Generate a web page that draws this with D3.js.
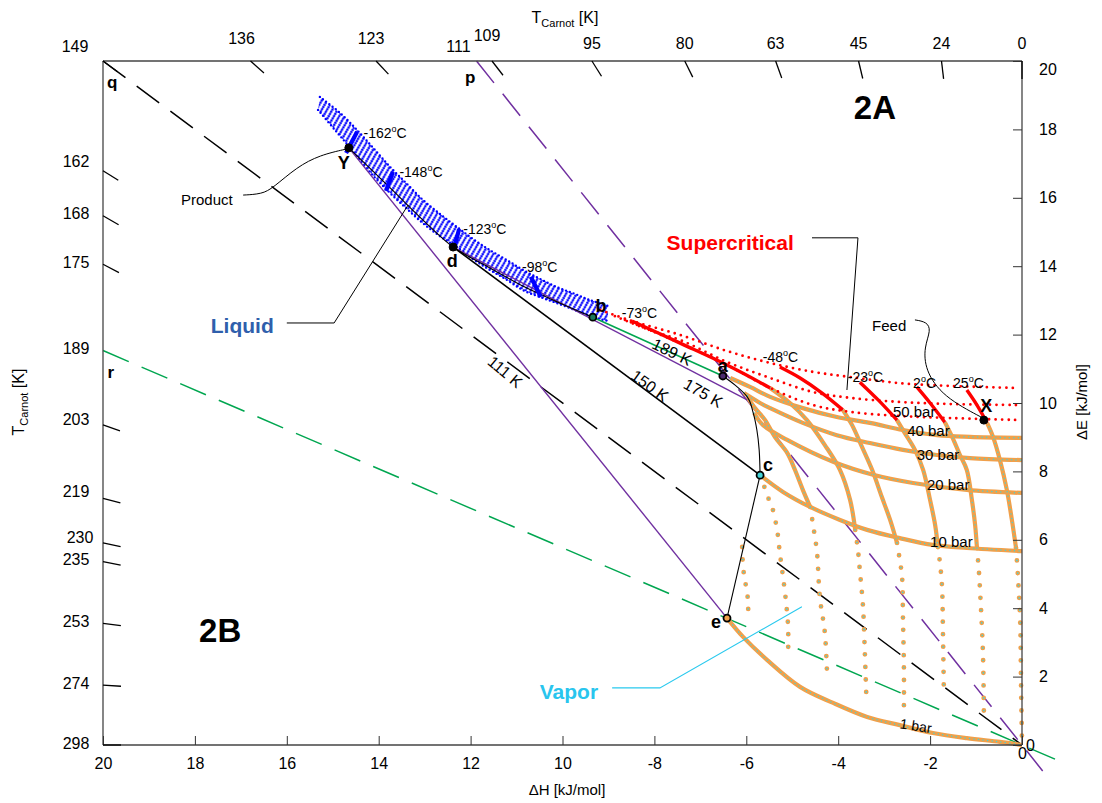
<!DOCTYPE html>
<html>
<head>
<meta charset="utf-8">
<script src="https://cdn.jsdelivr.net/npm/d3@7"></script>
<style>
  body { margin: 0; background: #fff; }
  svg { font-family: "Liberation Sans", Arial, sans-serif; }
</style>
</head>
<body>
<svg id="chart" width="1102" height="803"></svg>
<script>
// ---------------- data (ΔH, ΔE in kJ/mol) ----------------
const T0 = 298; // ambient reference temperature, K

const dHTicks = [-20, -18, -16, -14, -12, -10, -8, -6, -4, -2, 0];
const dHTickLabels = ["20", "18", "16", "14", "12", "10", "-8", "-6", "-4", "-2", "0"];
const dETicks = [0, 2, 4, 6, 8, 10, 12, 14, 16, 18, 20];

// Carnot temperature ticks (K) along the top and left frame edges
const carnotTopTicks = [149, 136, 123, 111, 109, 95, 80, 63, 45, 24, 0];
const carnotLeftTicks = [162, 168, 175, 189, 203, 219, 230, 235, 253, 274, 298];

// Carnot reference lines through the origin (name, temperature K, ΔH where the line stops)
const refNames = ["q", "p", "r"];
const refTemps = [149, 111, 189];
const refEnds = [0, 0.45, 0.75];

// process states
const stateNames = ["Y", "d", "b", "a", "c", "e", "X"];
const stateXY = [[-14.65, 17.46], [-12.38, 14.56], [-9.34, 12.51], [-6.51, 10.79],
                 [-5.70, 7.89], [-6.42, 3.71], [-0.83, 9.50]];

// liquid band (compressed liquid region): upper and lower boundaries
const liquidUpper = [[-15.28, 18.95], [-14.84, 18.48], [-14.47, 17.98], [-14.12, 17.46], [-13.75, 16.90],
  [-13.38, 16.40], [-13.04, 15.94], [-12.67, 15.53], [-12.30, 15.15], [-11.95, 14.80], [-11.58, 14.47],
  [-11.21, 14.18], [-10.86, 13.89], [-10.49, 13.63], [-10.12, 13.39], [-9.73, 13.19], [-9.40, 13.01], [-9.01, 12.84]];
const liquidLower = [[-15.32, 18.57], [-14.95, 17.98], [-14.62, 17.46], [-14.23, 16.81], [-13.82, 16.23],
  [-13.43, 15.73], [-13.04, 15.26], [-12.67, 14.88], [-12.30, 14.56], [-11.95, 14.21], [-11.58, 13.89],
  [-11.21, 13.60], [-10.86, 13.30], [-10.49, 13.10], [-10.12, 12.92], [-9.73, 12.72], [-9.34, 12.51], [-9.01, 12.40]];

// highlighted liquid isotherms (°C) across the band
const liquidIsoTemps = [-162, -148, -123, -98];
const liquidIsoSegs = [
  [[-14.47, 17.93], [-14.71, 17.31]],
  [[-13.69, 16.76], [-13.84, 16.20]],
  [[-12.25, 15.09], [-12.36, 14.51]],
  [[-10.69, 13.69], [-10.47, 13.10]]
];

// liquid cooling path Y - d - b
const liquidPath = [[-14.65, 17.46], [-13.75, 16.29], [-12.99, 15.29], [-12.38, 14.56], [-11.58, 13.95],
  [-10.82, 13.39], [-10.05, 12.92], [-9.34, 12.51]];

// saturated vapour path a - c - e
const vaporPath = [[-6.51, 10.79], [-6.25, 10.53], [-5.98, 10.18], [-5.85, 9.71], [-5.77, 9.21],
  [-5.72, 8.63], [-5.70, 7.89], [-6.42, 3.71]];

// straight Carnot process lines
const processNames = ["111 K", "150 K", "175 K", "189 K"];
const process111 = [[-14.65, 17.46], [-6.42, 3.71]];
const process150 = [[-12.38, 14.56], [-5.70, 7.89]];
const process175 = [[-12.38, 14.56], [-5.98, 10.09]];
const process189 = [[-9.34, 12.51], [-6.51, 10.79]];

// supercritical isobars (50 bar and above)
const superIsobarHigh = [[-9.18, 12.72], [-8.49, 12.40], [-7.44, 11.99], [-6.42, 11.52], [-5.48, 11.17],
  [-4.55, 10.91], [-3.74, 10.76], [-2.66, 10.58], [-1.57, 10.50], [-0.15, 10.44]];
const superIsobarMid = [[-8.86, 12.54], [-8.10, 12.13], [-7.44, 11.84], [-6.42, 11.20], [-5.48, 10.73],
  [-4.55, 10.32], [-3.74, 10.15], [-2.66, 10.03], [-1.57, 9.97], [-0.02, 9.94]];
const superIsobar50 = [[-8.64, 12.43], [-7.44, 11.75], [-6.42, 11.11], [-5.48, 10.44], [-4.55, 9.94],
  [-3.74, 9.74], [-2.66, 9.62], [-1.57, 9.56], [-0.02, 9.50]];

// supercritical parts of the isotherms -73, -48, -23, 2, 25 °C
const superIsotherms = [
  [[-8.49, 12.40], [-7.44, 11.75], [-6.42, 11.11], [-5.48, 10.44]],
  [[-5.27, 11.05], [-4.83, 10.73], [-4.35, 10.29], [-3.90, 9.80]],
  [[-3.53, 10.61], [-3.13, 10.09], [-2.72, 9.50]],
  [[-2.29, 10.47], [-2.00, 10.00], [-1.68, 9.44]],
  [[-1.20, 10.38], [-0.98, 9.94], [-0.76, 9.42]]
];

// vapour isobars
const isobar40 = [[-6.35, 10.73], [-5.92, 10.47], [-5.48, 10.18], [-4.77, 9.85], [-4.03, 9.59],
  [-3.31, 9.42], [-2.59, 9.21], [-1.85, 9.06], [-1.13, 9.01], [0, 8.98]];
const isobar30 = [[-6.05, 10.29], [-5.70, 10.00], [-5.48, 9.85], [-4.77, 9.42], [-4.03, 9.06],
  [-3.31, 8.83], [-2.59, 8.63], [-1.85, 8.48], [-1.13, 8.39], [0, 8.33]];
const isobar20 = [[-5.83, 9.71], [-5.64, 9.36], [-5.11, 8.92], [-4.11, 8.28], [-3.24, 7.90],
  [-2.37, 7.66], [-1.20, 7.46], [0, 7.37]];
const isobar10 = [[-5.70, 7.89], [-5.20, 7.40], [-4.61, 6.96], [-3.96, 6.58], [-3.37, 6.29],
  [-2.66, 6.05], [-1.94, 5.85], [-1.20, 5.76], [0, 5.67]];
const isobar1 = [[-6.42, 3.71], [-6.07, 3.16], [-5.55, 2.49], [-4.83, 1.70], [-4.11, 1.23],
  [-3.37, 0.82], [-2.66, 0.58], [-1.94, 0.35], [-1.20, 0.20], [-0.48, 0.09], [0, 0]];

// vapour isotherms between 50 and 10 bar (-98, -73, -48, -23, 2, 25 °C)
const vaporIsothermsHigh = [
  [[-5.98, 10.18], [-5.81, 9.85], [-5.59, 9.50], [-5.38, 9.01], [-5.11, 8.54], [-4.94, 8.04], [-4.77, 7.46], [-4.61, 6.96]],
  [[-5.48, 10.44], [-5.05, 10.00], [-4.68, 9.50], [-4.29, 8.77], [-3.96, 8.04], [-3.74, 7.16], [-3.63, 6.29]],
  [[-3.90, 9.80], [-3.70, 9.36], [-3.48, 8.71], [-3.26, 8.04], [-3.05, 7.25], [-2.87, 6.58], [-2.72, 5.91]],
  [[-2.72, 9.50], [-2.55, 9.12], [-2.33, 8.63], [-2.15, 8.04], [-2.00, 7.16], [-1.89, 6.43], [-1.83, 5.79]],
  [[-1.68, 9.44], [-1.52, 9.01], [-1.35, 8.48], [-1.20, 8.04], [-1.09, 7.16], [-1.02, 6.43], [-0.98, 5.76]],
  [[-0.76, 9.42], [-0.63, 9.01], [-0.48, 8.33], [-0.33, 7.46], [-0.22, 6.58], [-0.13, 5.76]]
];

// vapour isotherms below 10 bar (-148, -123, -98, -73, -48, -23, 2, 25 °C)
const vaporIsothermsLow = [
  [[-6.09, 5.79], [-6.07, 5.20], [-6.03, 4.82], [-5.98, 4.44], [-5.96, 4.09], [-5.96, 3.74]],
  [[-5.70, 7.89], [-5.64, 7.69], [-5.55, 7.31], [-5.44, 6.96], [-5.33, 6.29], [-5.27, 5.61], [-5.20, 4.91], [-5.14, 4.24], [-5.09, 3.45], [-5.09, 2.69]],
  [[-4.61, 6.96], [-4.53, 6.29], [-4.46, 5.61], [-4.40, 4.33], [-4.29, 3.27], [-4.24, 1.99]],
  [[-3.63, 6.29], [-3.57, 5.70], [-3.53, 5.12], [-3.46, 4.04], [-3.42, 2.69], [-3.39, 1.52]],
  [[-2.72, 5.91], [-2.66, 5.41], [-2.61, 4.91], [-2.59, 3.66], [-2.57, 2.28], [-2.57, 1.11]],
  [[-1.83, 5.79], [-1.78, 5.26], [-1.74, 4.62], [-1.72, 3.27], [-1.70, 1.52]],
  [[-0.98, 5.76], [-0.94, 5.12], [-0.91, 4.44], [-0.85, 2.69], [-0.83, 0.94]],
  [[-0.13, 5.76], [-0.09, 4.97], [-0.04, 3.65], [-0.02, 1.70], [0, 0.06]]
];

// annotation leaders
const productLeader = [[-16.95, 16.08], [-16.54, 16.11], [-16.30, 16.29], [-15.78, 16.90], [-15.28, 17.25], [-14.69, 17.43]];
const liquidLeader = [[-16.00, 12.34], [-14.97, 12.34], [-13.36, 15.79]];
const superLeader = [[-4.57, 14.83], [-3.57, 14.83], [-3.81, 10.38]];
const feedLeader = [[-2.33, 12.43], [-2.07, 12.37], [-1.98, 12.13], [-2.13, 11.64], [-2.11, 10.96], [-1.72, 10.18], [-0.85, 9.56]];
const vaporLeader = [[-8.92, 1.67], [-7.88, 1.67], [-4.79, 4.04]];

// label anchors
const tempLabelTemps = [-162, -148, -123, -98, -73, -48, -23, 2, 25];
const tempLabelAt = [[-14.33, 17.75], [-13.55, 16.61], [-12.16, 14.94], [-10.88, 13.83], [-8.71, 12.49],
  [-5.64, 11.20], [-3.79, 10.61], [-2.37, 10.44], [-1.50, 10.44]];
const isobarNames = ["50 bar", "40 bar", "30 bar", "20 bar", "10 bar"];
const isobarLabelAt = [[-2.81, 9.59], [-2.50, 9.04], [-2.29, 8.33], [-2.07, 7.46], [-2.00, 5.79]];
const oneBarLabelAt = [-2.31, 0.56];
const processLabelAt = [[-11.25, 10.91], [-8.10, 10.50], [-6.94, 10.29], [-7.62, 11.49]];
const stateLabelAt = [[-14.76, 17.02], [-12.40, 14.15], [-9.16, 12.84], [-6.51, 11.08], [-5.53, 8.19], [-6.66, 3.60], [-0.78, 9.91]];
const refLabelAt = [[-19.80, 19.36], [-12.01, 19.53], [-19.83, 10.88]];

// ---------------- drawing ----------------
const svg = d3.select("#chart");
const x = d3.scaleLinear().domain([-20, 0]).range([103, 1022]);
const y = d3.scaleLinear().domain([0, 20]).range([745, 61]);

const straight = d3.line().x(d => x(d[0])).y(d => y(d[1]));
const smooth = d3.line().x(d => x(d[0])).y(d => y(d[1])).curve(d3.curveCatmullRom.alpha(0.5));
const basis = d3.line().x(d => x(d[0])).y(d => y(d[1])).curve(d3.curveBasis);

const PURPLE = "#7030a0", GREEN = "#00a650", RED = "#ff0000", BLUE = "#0000ff";
const ORANGE = "#f0a04b", CYAN = "#45d3d6";

// dotted hatch used for the compressed-liquid band
const defs = svg.append("defs");
defs.append("pattern")
  .attr("id", "liqHatch")
  .attr("patternUnits", "userSpaceOnUse")
  .attr("width", 4.6).attr("height", 2.5)
  .attr("patternTransform", "rotate(30)")
  .append("circle").attr("cx", 2.3).attr("cy", 1.25).attr("r", 1.2).attr("fill", BLUE);

const plot = svg.append("g");

function path(gen, data, stroke, width, dash) {
  const p = plot.append("path").attr("d", gen(data)).attr("fill", "none")
    .attr("stroke", stroke).attr("stroke-width", width);
  if (dash) p.attr("stroke-dasharray", dash);
  return p;
}
function dots(data, stroke, width, gap) {
  return path(smooth, data, stroke, width, `0 ${gap}`).attr("stroke-linecap", "round");
}
// dense orange trace with cyan centres
function denseTrace(data) {
  path(smooth, data, ORANGE, 4.2);
  dots(data, CYAN, 1.5, 4.5);
}
// sparse orange dots with cyan centres
function sparseTrace(data) {
  dots(data, ORANGE, 4.8, 12.5);
  dots(data, CYAN, 1.7, 12.5);
}

// Carnot reference lines q, p, r
const refColors = { q: "#000", p: PURPLE, r: GREEN };
refNames.forEach((n, i) => {
  const k = T0 / refTemps[i] - 1;
  const start = k >= 1 ? [-20 / k, 20] : [-20, 20 * k];
  const end = [refEnds[i], -k * refEnds[i]];
  path(straight, [start, end], refColors[n], 1.5, "28 14");
});

// liquid band
plot.append("path")
  .attr("d", straight(liquidUpper.concat(liquidLower.slice().reverse())) + "Z")
  .attr("fill", "url(#liqHatch)").attr("stroke", "none");
dots(liquidUpper, BLUE, 2.4, 4);
dots(liquidLower, BLUE, 2.4, 4);

// vapour region
[isobar40, isobar30, isobar20, isobar10, isobar1].forEach(denseTrace);
vaporIsothermsHigh.forEach(denseTrace);
vaporIsothermsLow.forEach(sparseTrace);

// supercritical region
[superIsobarHigh, superIsobarMid, superIsobar50].forEach(d => dots(d, RED, 2.8, 6.5));
superIsotherms.forEach(d => path(smooth, d, RED, 3.4));

// process lines
path(straight, process111, PURPLE, 1.4);
path(straight, process175, PURPLE, 1.4);
path(straight, process150, "#000", 1.6);
path(straight, process189, GREEN, 1.6);
path(smooth, liquidPath, "#000", 1.1);
path(d3.line().x(d => x(d[0])).y(d => y(d[1])).curve(d3.curveMonotoneY), vaporPath.slice(0, 7), "#000", 1.1);
path(straight, vaporPath.slice(6), "#000", 1.1);

// highlighted liquid isotherms
liquidIsoSegs.forEach(d => path(straight, d, BLUE, 4.2));

// leaders
path(basis, productLeader, "#000", 1);
path(straight, liquidLeader, "#000", 1);
path(straight, superLeader, "#000", 1);
path(basis, feedLeader, "#000", 1);
path(straight, vaporLeader, "#29c9ee", 1.1);

// state points
const stateFill = { Y: "#000", d: "#000", X: "#000", a: "#4b2a6e", b: "#1b7a5a", c: CYAN, e: ORANGE };
stateNames.forEach((n, i) => {
  const filled = (n === "Y" || n === "d" || n === "X");
  plot.append("circle").attr("cx", x(stateXY[i][0])).attr("cy", y(stateXY[i][1]))
    .attr("r", filled ? 4 : 3.5)
    .attr("fill", stateFill[n]).attr("stroke", "#000").attr("stroke-width", filled ? 1 : 1.8);
});

// ---------------- frame and axes ----------------
const frame = svg.append("g").attr("stroke", "#444").attr("stroke-width", 1.3);
frame.append("line").attr("x1", x(-20)).attr("x2", x(0)).attr("y1", y(20)).attr("y2", y(20));
frame.append("line").attr("x1", x(-20)).attr("x2", x(0)).attr("y1", y(0)).attr("y2", y(0));
frame.append("line").attr("x1", x(-20)).attr("x2", x(-20)).attr("y1", y(0)).attr("y2", y(20));
frame.append("line").attr("x1", x(0)).attr("x2", x(0)).attr("y1", y(0)).attr("y2", y(20));

const xAxis = svg.append("g").attr("transform", `translate(0,${y(0)})`)
  .call(d3.axisBottom(x).tickValues(dHTicks).tickFormat((d, i) => dHTickLabels[i]).tickSize(-9).tickPadding(13));
xAxis.select(".domain").remove();
xAxis.selectAll("text").attr("font-size", 16).attr("fill", "#000")
  .attr("font-family", "Liberation Sans, Arial, sans-serif");
xAxis.selectAll(".tick line").attr("stroke", "#333");
xAxis.selectAll(".tick").filter(d => d === 0).select("text").attr("dy", "0.05em");

const yAxis = svg.append("g").attr("transform", `translate(${x(0)},0)`)
  .call(d3.axisRight(y).tickValues(dETicks).tickSize(-9).tickPadding(17));
yAxis.select(".domain").remove();
yAxis.selectAll("text").attr("font-size", 16).attr("fill", "#000")
  .attr("font-family", "Liberation Sans, Arial, sans-serif");
yAxis.selectAll(".tick line").attr("stroke", "#333");
yAxis.selectAll(".tick").filter(d => d === 20).select("text").attr("dy", "0.85em");
yAxis.selectAll(".tick").filter(d => d === 0).select("text").attr("x", 4);

// Carnot temperature ticks: short segments along rays toward the origin
const O = [x(0), y(0)];
const rayTicks = svg.append("g").attr("stroke", "#000").attr("stroke-width", 1.3);
function rayTick(px, py) {
  const dx = O[0] - px, dy = O[1] - py, L = Math.hypot(dx, dy);
  rayTicks.append("line").attr("x1", px).attr("y1", py)
    .attr("x2", px + 18 * dx / L).attr("y2", py + 18 * dy / L);
}
const topNudge = { 149: [-28, 3], 136: [-9, -5], 123: [-5, -5], 111: [-18, 3], 109: [-5, -8] };
carnotTopTicks.forEach(T => {
  const k = T0 / T - 1;
  const px = x(-20 / k), py = y(20);
  if (T !== 111) rayTick(px, py);
  const n = topNudge[T] || [0, 0];
  svg.append("text").attr("x", px + n[0]).attr("y", 43 + n[1])
    .attr("text-anchor", "middle").attr("dominant-baseline", "central")
    .attr("font-size", 16).text(T);
});
const leftNudge = { 162: -9, 203: -5, 219: -7, 230: -5 };
carnotLeftTicks.forEach(T => {
  const k = T0 / T - 1;
  const px = x(-20), py = y(20 * k);
  if (T !== 189) rayTick(px, py);
  svg.append("text").attr("x", T === 230 ? 80 : 76).attr("y", py + (leftNudge[T] || -2))
    .attr("text-anchor", "middle").attr("dominant-baseline", "central")
    .attr("font-size", 16).text(T);
});

// axis titles
function carnotTitle(sel) {
  sel.append("tspan").text("T");
  sel.append("tspan").attr("font-size", 11).attr("dy", 4).text("Carnot");
  sel.append("tspan").attr("dy", -4).text(" [K]");
}
carnotTitle(svg.append("text").attr("x", 565).attr("y", 23).attr("text-anchor", "middle").attr("font-size", 16));
carnotTitle(svg.append("text").attr("transform", "translate(24,402) rotate(-90)").attr("text-anchor", "middle").attr("font-size", 16));
svg.append("text").attr("x", 567).attr("y", 795).attr("text-anchor", "middle").attr("font-size", 15).text("ΔH [kJ/mol]");
svg.append("text").attr("transform", "translate(1087,402) rotate(-90)").attr("text-anchor", "middle").attr("font-size", 15).text("ΔE [kJ/mol]");

// ---------------- labels ----------------
const labels = svg.append("g");
function label(at, txt, opts) {
  const t = labels.append("text").attr("x", x(at[0])).attr("y", y(at[1]))
    .attr("text-anchor", opts.anchor || "middle")
    .attr("dominant-baseline", opts.baseline || "central")
    .attr("font-size", opts.size || 15)
    .attr("font-weight", opts.bold ? "bold" : "normal")
    .attr("fill", opts.color || "#000");
  if (opts.rotate) t.attr("transform", `rotate(${opts.rotate},${x(at[0])},${y(at[1])})`);
  if (txt !== null) t.text(txt);
  return t;
}

tempLabelTemps.forEach((T, i) => {
  const t = label(tempLabelAt[i], null, { anchor: "start", baseline: "alphabetic", size: 14 });
  t.append("tspan").text(T);
  t.append("tspan").attr("font-size", 9).attr("dy", -6).text("o");
  t.append("tspan").attr("dy", 6).text("C");
});
isobarNames.forEach((n, i) => label(isobarLabelAt[i], n, { anchor: "start", baseline: "alphabetic", size: 15 }));
label(oneBarLabelAt, "1 bar", { size: 14, rotate: 9 });

const processRot = [40, 36, 30, 26];
processNames.forEach((n, i) => label(processLabelAt[i], n, { size: 16, rotate: processRot[i] }));

stateNames.forEach((n, i) => label(stateLabelAt[i], n, { size: 18, bold: true }));
refNames.forEach((n, i) => label(refLabelAt[i], n, { size: 17, bold: true }));

label([-6.35, 14.68], "Supercritical", { size: 21, bold: true, color: RED });
label([-16.97, 12.28], "Liquid", { size: 21, bold: true, color: "#2f5fac" });
label([-9.86, 1.55], "Vapor", { size: 21, bold: true, color: "#29c5ee" });
label([-17.74, 15.96], "Product", { size: 15 });
label([-2.89, 12.28], "Feed", { size: 15 });
label([-3.20, 18.65], "2A", { size: 33, bold: true });
label([-17.45, 3.36], "2B", { size: 33, bold: true });
</script>
</body>
</html>
